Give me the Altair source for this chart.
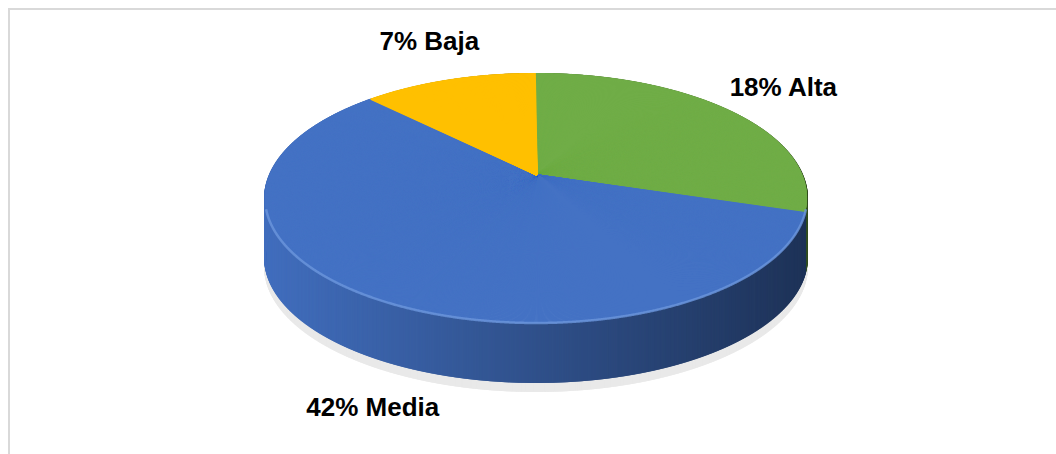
import altair as alt
import pandas as pd
import numpy as np

# ---- data ----
categories = ["Alta", "Media", "Baja"]
values = [18, 42, 7]
labels = ["18% Alta", "42% Media", "7% Baja"]
colors = ["#70ad47", "#4472c4", "#ffc000"]

# ---- layout (pixels) ----
W, H = 1056, 454
CX, CY = 536, 198        # centre of the top ellipse
RX, RY = 271, 125        # radii of the top ellipse
TIPX, TIPY = 537, 175    # apex of the slices (perspective)
DEPTH = 60               # thickness of the disc
STEP = 0.2

total = sum(values)
bounds = np.cumsum([0] + values) / total * 360.0


def darken(hexcol, f):
    r, g, b = (int(hexcol[i:i + 2], 16) for i in (1, 3, 5))
    return "#%02x%02x%02x" % (int(r * f), int(g * f), int(b * f))


t = np.arange(0, 360, STEP)
rad = np.radians(t)
rimx = CX + RX * np.sin(rad)
rimy = CY - RY * np.cos(rad)
idx = np.clip(np.searchsorted(bounds, t, side="right") - 1, 0, len(categories) - 1)
cat = [categories[i] for i in idx]
f = 0.97 - 0.52 * (rimx - (CX - RX)) / (2 * RX)
shade = [darken(colors[i], fi) for i, fi in zip(idx, f)]

fan = pd.DataFrame({
    "cat": cat, "x0": TIPX, "y0": TIPY, "x1": rimx, "y1": rimy,
    "ys": rimy + DEPTH, "ysh": rimy + DEPTH + 9, "shade": shade, "t": t,
})
front = fan[(fan.t > 95) & (fan.t < 265)]

mid = (bounds[:-1] + bounds[1:]) / 2
mr = np.radians(mid)
lab = pd.DataFrame({
    "label": labels,
    "lx": CX + (RX + 60) * np.sin(mr),
    "ly": CY - (RY + 40) * np.cos(mr) + np.where(np.cos(mr) < 0, DEPTH + 6, 0),
})

xs = alt.Scale(domain=[0, W], nice=False, zero=False)
ys = alt.Scale(domain=[0, H], reverse=True, nice=False, zero=False)

shadow = alt.Chart(fan).mark_rule(strokeWidth=2, color="#e9e9e9").encode(
    x=alt.X("x1:Q", scale=xs, axis=None), y=alt.Y("y1:Q", scale=ys, axis=None),
    x2="x1:Q", y2="ysh:Q",
)
side = alt.Chart(fan).mark_rule(strokeWidth=2).encode(
    x=alt.X("x1:Q", scale=xs, axis=None), y=alt.Y("y1:Q", scale=ys, axis=None),
    x2="x1:Q", y2="ys:Q",
    color=alt.Color("shade:N", scale=None, legend=None),
)
top = alt.Chart(fan).mark_rule(strokeWidth=1.6).encode(
    x=alt.X("x0:Q", scale=xs, axis=None), y=alt.Y("y0:Q", scale=ys, axis=None),
    x2="x1:Q", y2="y1:Q",
    color=alt.Color("cat:N", scale=alt.Scale(domain=categories, range=colors), legend=None),
)
bevel = alt.Chart(front).mark_line(strokeWidth=2.5, color="#6b96dc", opacity=0.8).encode(
    x=alt.X("x1:Q", scale=xs, axis=None), y=alt.Y("y1:Q", scale=ys, axis=None),
    order="t:Q",
)
text = alt.Chart(lab).mark_text(
    font="Liberation Sans", fontWeight="bold", fontSize=26, color="#000000",
    align="center", baseline="middle",
).encode(
    x=alt.X("lx:Q", scale=xs, axis=None), y=alt.Y("ly:Q", scale=ys, axis=None),
    text="label:N",
)
frame = alt.Chart(lab).mark_rect(fill=None, stroke="#d9d9d9", strokeWidth=2).encode(
    x=alt.value(9), y=alt.value(9), x2=alt.value(W + 20), y2=alt.value(H + 20),
)

chart = alt.layer(frame, shadow, side, top, bevel, text).resolve_scale(
    color="independent"
).properties(
    width=W, height=H, padding=0, autosize="none", background="#ffffff",
).configure_view(stroke=None)

chart.save("out.html", embed_options={"renderer": "svg", "actions": False})
